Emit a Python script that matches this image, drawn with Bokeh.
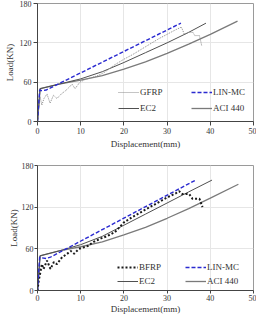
from bokeh.plotting import figure
from bokeh.layouts import column
from bokeh.models import FixedTicker, Legend, LegendItem, Range1d
from bokeh.embed import file_html
from bokeh.resources import INLINE

# ---- top panel: GFRP beam ----
gfrp_x = [0, 0.3, 0.6, 1.0, 1.5, 2.2, 2.9, 3.7, 4.5, 5.5, 6.5, 7.3, 8.0, 8.7, 9.8, 11, 12.5, 14,
          15.5, 16.5, 18, 20, 22, 24, 26, 28, 30, 32, 33.3, 34, 35, 36, 36.4, 37.5, 38]
gfrp_y = [0, 20, 38, 25, 35, 42, 28, 40, 35, 42, 47, 52, 57, 50, 60, 64, 67, 70,
          75, 80, 87, 95, 102, 110, 118, 126, 133, 140, 144, 133, 136, 136, 131, 131, 116]
lin1_x = [0, 0.5, 1.0, 2.0, 33.2]
lin1_y = [0, 48, 47, 48, 150]
ec2_1_x = [0, 0.6, 5, 10, 15, 20, 25, 30, 35, 39]
ec2_1_y = [0, 50, 57, 65, 76, 90, 105, 120, 136, 150]
aci1_x = [0, 0.6, 5, 10, 15, 20, 25, 30, 35, 40, 46.3]
aci1_y = [0, 50, 57, 63, 70, 80, 91, 104, 118, 133, 153]

# ---- bottom panel: BFRP beam ----
bfrp_x = [0, 0.3, 0.6, 1.0, 1.4, 2.2, 3.0, 3.8, 4.5, 5.7, 6.7, 7.7, 8.5, 9.6, 11.6, 13, 14.7, 16,
          17.9, 20, 22, 24, 26, 28, 30, 32, 32.8, 33.5, 35.1, 35.9, 37.5, 38.2]
bfrp_y = [0, 15, 24, 38, 31, 43, 31, 41, 38, 48, 52, 57, 53, 60, 64, 70, 75, 78,
          84, 98, 106, 113, 120, 127, 134, 140, 143, 139, 139, 132, 132, 120]
lin2_x = [0, 0.5, 1.0, 2.0, 3.0, 36.6]
lin2_y = [0, 48, 47, 46, 48, 159]
ec2_2_x = [0, 0.6, 5, 10, 15, 20, 25, 30, 35, 40.4]
ec2_2_y = [0, 50, 57, 66, 78, 94, 110, 126, 142, 159]
aci2_x = [0, 0.6, 5, 10, 15, 20, 25, 30, 35, 40, 46.5]
aci2_y = [0, 50, 57, 63, 70, 80, 91, 104, 118, 133, 153]

x_ticks = [0, 10, 20, 30, 40, 50]
y_ticks = [0, 60, 120, 180]
FONT = "Liberation Serif"


def make_panel(height, top, bottom, left, right, exp_x, exp_y, exp_label, exp_color,
               exp_width, exp_dash, lin_x, lin_y, ec_x, ec_y, aci_x, aci_y,
               leg_y, leg_x1, leg_x2, row_h, tick_out, label_gap, title_gap):
    p = figure(width=256, height=height, output_backend="svg", toolbar_location=None,
               x_range=Range1d(0, 50), y_range=Range1d(0, 180),
               min_border_top=top, min_border_bottom=bottom,
               min_border_left=left, min_border_right=right)
    p.background_fill_color = "white"
    p.border_fill_color = "white"
    p.outline_line_color = "#9a9a9a"
    p.outline_line_width = 1

    p.xaxis.ticker = FixedTicker(ticks=x_ticks)
    p.yaxis.ticker = FixedTicker(ticks=y_ticks)
    for ax in (p.xaxis[0], p.yaxis[0]):
        ax.minor_tick_line_color = None
        ax.major_tick_out = tick_out
        ax.major_tick_in = 0
        ax.major_label_standoff = label_gap
        ax.axis_label_standoff = title_gap
        ax.major_label_text_font = FONT
        ax.major_label_text_font_size = "8px"
        ax.major_label_text_color = "#333333"
        ax.axis_label_text_font = FONT
        ax.axis_label_text_font_size = "9px"
        ax.axis_label_text_font_style = "normal"
        ax.axis_label_text_color = "#333333"
        ax.axis_line_color = "#444444"
        ax.major_tick_line_color = "#444444"
    p.xaxis.axis_label = "Displacement(mm)"
    p.yaxis.axis_label = "Load(KN)"
    p.grid.grid_line_color = "#e6e6e6"
    p.grid.grid_line_width = 1

    r_aci = p.line(aci_x, aci_y, line_color="#7a7a7a", line_width=1.3)
    r_ec = p.line(ec_x, ec_y, line_color="#505050", line_width=1)
    r_exp = p.line(exp_x, exp_y, line_color=exp_color, line_width=exp_width, line_dash=exp_dash)
    r_lin = p.line(lin_x, lin_y, line_color="#2a2ad0", line_width=1.4, line_dash="4 2")

    common = dict(padding=0, margin=0, spacing=2, border_line_alpha=0,
                  background_fill_alpha=0, glyph_width=21, glyph_height=row_h - 2,
                  label_height=row_h - 2, label_standoff=1,
                  label_text_font=FONT, label_text_font_size="9px",
                  label_text_color="#333333")
    leg1 = Legend(items=[LegendItem(label=exp_label, renderers=[r_exp]),
                         LegendItem(label="EC2", renderers=[r_ec])],
                  location=(leg_x1, leg_y), **common)
    leg2 = Legend(items=[LegendItem(label="LIN-MC", renderers=[r_lin]),
                         LegendItem(label="ACI 440", renderers=[r_aci])],
                  location=(leg_x2, leg_y), **common)
    p.add_layout(leg1)
    p.add_layout(leg2)
    return p


p1 = make_panel(158, 3, 37, 36, 3, gfrp_x, gfrp_y, "GFRP", "#8a8a8a", 1, "1 1",
                lin1_x, lin1_y, ec2_1_x, ec2_1_y, aci1_x, aci1_y,
                leg_y=6, leg_x1=81, leg_x2=154, row_h=16,
                tick_out=4, label_gap=2, title_gap=2)
p2 = make_panel(158, 7, 25, 37, 3, bfrp_x, bfrp_y, "BFRP", "#1a1a1a", 2, "2 2",
                lin2_x, lin2_y, ec2_2_x, ec2_2_y, aci2_x, aci2_y,
                leg_y=3, leg_x1=80, leg_x2=148, row_h=14,
                tick_out=3, label_gap=1, title_gap=0)

layout = column(p1, p2, spacing=0)
open("out.html", "w").write(file_html(layout, INLINE))
